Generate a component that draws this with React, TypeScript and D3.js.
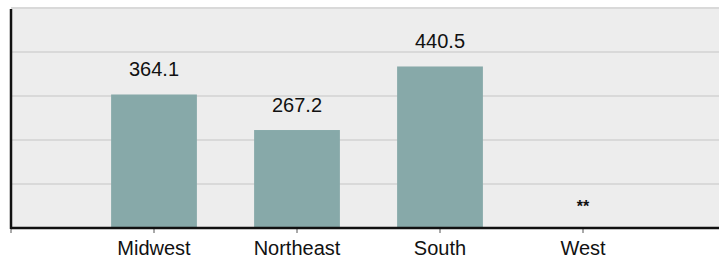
import React from "react";
import * as d3 from "d3";

const categories = ["Midwest", "Northeast", "South", "West"];
const values: (number | null)[] = [364.1, 267.2, 440.5, null];
const valueLabels = ["364.1", "267.2", "440.5", "**"];
const gridTicks = [0, 120, 240, 360, 480, 600];

export default function App() {
  const W = 719, H = 258;
  const left = 11, right = 719, top = 8, bottom = 228;
  const y = d3.scaleLinear().domain([0, 600]).range([bottom, top]);
  const x = d3.scaleBand<string>().domain(categories).range([82.5, 654.5]).paddingInner(0.4).paddingOuter(0.2);
  const font = "Arial, 'Liberation Sans', sans-serif";
  return (
    <svg width={W} height={H} style={{ position: "absolute", left: 0, top: 0, display: "block" }}>
      <rect x={left} y={top} width={right - left} height={bottom - top} fill="#ededed" />
      {gridTicks.map((t) => (
        <line key={t} x1={left} x2={right} y1={y(t)} y2={y(t)} stroke="#d9d9d9" strokeWidth={2} />
      ))}
      {categories.map((c, i) => {
        const v = values[i];
        const cx = (x(c) as number) + x.bandwidth() / 2;
        return (
          <g key={c}>
            {v != null && (
              <rect x={x(c)} y={y(v)} width={x.bandwidth()} height={bottom - y(v)} fill="#87a9a9" />
            )}
            {v != null ? (
              <text x={cx} y={y(v) - 18} textAnchor="middle" fontFamily={font} fontSize={20} fill="#111">
                {valueLabels[i]}
              </text>
            ) : (
              <text x={cx} y={212} textAnchor="middle" fontFamily={font} fontSize={16} fontWeight="bold" fill="#111">
                {valueLabels[i]}
              </text>
            )}
            <line x1={cx} x2={cx} y1={bottom} y2={bottom + 5} stroke="#555" strokeWidth={1} />
            <text x={cx} y={255} textAnchor="middle" fontFamily={font} fontSize={20} fill="#111">
              {c}
            </text>
          </g>
        );
      })}
      <line x1={left} x2={left} y1={bottom} y2={bottom + 5} stroke="#555" strokeWidth={1} />
      <line x1={left} x2={right} y1={bottom} y2={bottom} stroke="#111" strokeWidth={2.5} />
      <line x1={left} x2={left} y1={top + 1} y2={bottom + 1} stroke="#111" strokeWidth={2.5} />
    </svg>
  );
}
